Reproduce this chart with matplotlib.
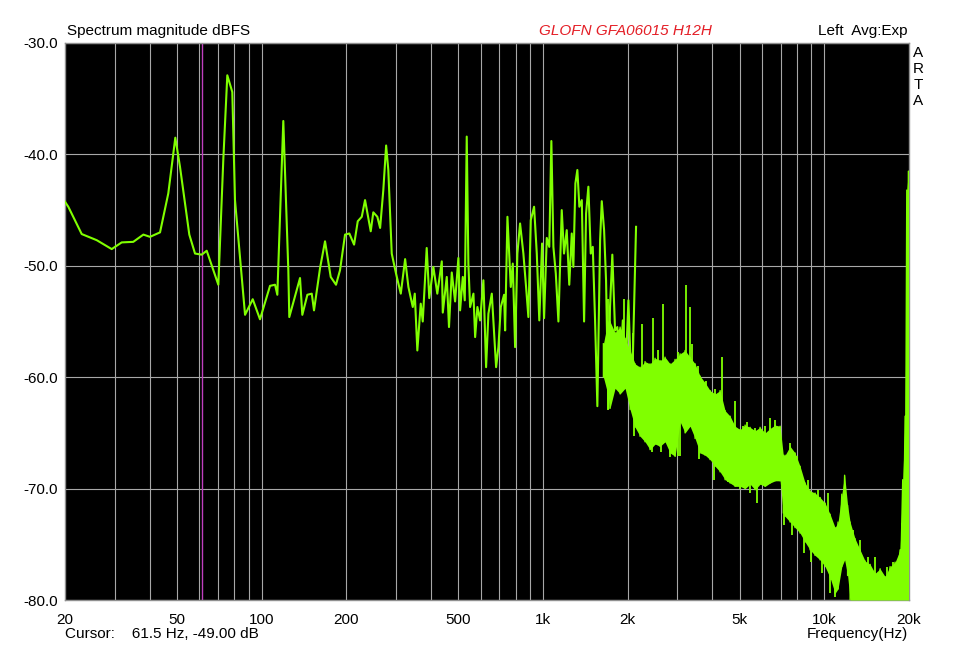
import numpy as np
import matplotlib
matplotlib.use("Agg")
import matplotlib.pyplot as plt

plt.rcParams['font.family'] = ['Liberation Sans', 'DejaVu Sans']

# low/mid band trace (Hz, dBFS)
lf_freq = [20.0, 20.55, 22.93, 25.93, 29.31, 31.81, 34.97, 37.98, 40.1, 43.53,
           46.58, 49.33, 51.25, 55.32, 57.97, 61.24, 63.79, 70.15, 73.06, 75.5,
           78.65, 80.4, 87.3, 92.96, 98.66, 107.1, 111.6, 113.7, 119.4, 124.4,
           125.4, 136.9, 139.5, 145.4, 150.7, 153.5, 161.3, 168.0, 176.0, 183.8,
           189.9, 197.9, 205.0, 213.1, 219.6, 226.9, 233.1, 244.2, 249.4, 257.8,
           263.7, 270.7, 277.0, 282.0, 290.0, 300.4, 312.3, 323.6, 332.4, 344.5,
           350.2, 357.6, 367.7, 373.8, 386.1, 394.3, 407.7, 421.1, 436.8, 440.4,
           455.0, 463.4, 474.0, 487.1, 500.4, 507.4, 518.8, 527.2, 535.8, 543.0,
           550.8, 566.0, 573.9, 584.7, 597.7, 614.1, 627.8, 639.8, 657.8, 681.4,
           694.4, 708.1, 727.4, 733.6, 747.6, 768.3, 781.0, 796.0, 811.0, 829.0,
           851.8, 870.8, 887.4, 905.0, 929.8, 950.6, 970.3, 992.7, 1009, 1031.6,
           1053, 1071, 1089, 1110.7, 1134.6, 1166, 1188, 1214.7, 1240, 1265.5,
           1282.3, 1303.8, 1325, 1347, 1374, 1400, 1423, 1450, 1478.5, 1503,
           1531.7, 1560.6, 1596, 1618, 1649, 1675.6, 1707.7, 1731, 1764, 1804,
           1838, 1880, 1922, 1958, 2012, 2069, 2142]
lf_db = [-44.25, -44.7, -47.15, -47.7, -48.5, -47.9, -47.85, -47.2, -47.4, -47.0,
         -43.5, -38.5, -41.1, -47.2, -48.9, -49.0, -48.65, -51.7, -40.5, -32.9,
         -34.4, -44.1, -54.4, -53.0, -54.8, -51.8, -51.7, -52.6, -37.0, -50.4,
         -54.6, -51.1, -54.4, -52.6, -52.5, -54.0, -50.2, -47.8, -51.0, -51.7,
         -50.4, -47.2, -47.1, -48.1, -46.0, -45.6, -44.1, -46.9, -45.2, -45.6,
         -46.6, -43.2, -39.2, -41.4, -48.9, -50.7, -52.5, -49.4, -51.9, -53.7,
         -52.5, -57.6, -53.4, -55.0, -48.4, -52.9, -50.1, -52.5, -49.6, -54.2,
         -51.0, -55.5, -50.6, -53.2, -49.3, -54.0, -51.0, -53.1, -38.4, -49.8,
         -53.7, -52.5, -56.4, -53.7, -54.9, -51.3, -59.1, -54.3, -52.5, -59.1,
         -57.3, -53.7, -52.6, -55.8, -45.6, -51.9, -49.8, -57.3, -48.9, -46.2,
         -48.9, -51.9, -54.6, -45.9, -44.7, -48.9, -54.9, -48.0, -54.7, -47.5,
         -48.3, -38.8, -48.3, -50.7, -55.0, -45.0, -48.9, -46.8, -51.7, -47.1,
         -50.1, -42.6, -41.4, -44.7, -44.1, -55.0, -45.3, -42.9, -48.9, -48.3,
         -54.9, -62.6, -47.7, -44.2, -46.8, -51.3, -62.8, -53.7, -49.0, -55.8,
         -55.5, -59.7, -54.9, -60.8, -53.1, -62.0, -46.5]

# high band noise: upper / lower edge of the dense trace
band_freq = [1640, 1700, 1731, 1804, 1880, 1958, 2040, 2125, 2213, 2306,
             2402, 2503, 2607, 2716, 2830, 2948, 3071, 3200, 3333, 3473,
             3618, 3770, 3927, 4091, 4262, 4440, 4625, 4818, 5020, 5230,
             5447, 5675, 5912, 6158, 6416, 6684, 6964, 7150, 7254, 7556,
             7872, 8202, 8546, 8900, 9272, 9662, 10066, 10484, 10922, 11190,
             11540, 11810, 12100, 12350, 12866, 13404, 13964, 14546, 15156, 15790,
             16450, 17136, 17852, 18598, 19000, 19374, 19640, 19900]
band_top = [-57.0, -55.0, -55.0, -56.0, -55.5, -56.5, -57.6, -58.8, -59.1, -58.6,
            -58.8, -58.3, -58.5, -58.2, -58.8, -58.4, -57.9, -57.6, -58.2, -58.8,
            -59.9, -60.5, -61.2, -61.5, -61.2, -63.0, -63.5, -64.4, -64.7, -64.3,
            -64.5, -64.8, -64.5, -65.0, -64.6, -64.3, -64.4, -67.0, -67.0, -66.2,
            -66.8, -68.0, -69.5, -70.2, -70.4, -70.8, -71.3, -72.3, -73.5, -73.0,
            -70.5, -68.8, -71.5, -73.0, -74.5, -75.5, -76.5, -76.8, -77.6, -77.2,
            -77.9, -77.0, -76.6, -75.5, -69.2, -63.5, -43.2, -41.5]
band_bot = [-60.0, -61.5, -62.8, -61.0, -61.5, -61.0, -62.9, -64.5, -65.3, -65.8,
            -66.5, -66.0, -66.2, -65.8, -66.8, -67.1, -64.0, -65.0, -64.4, -65.5,
            -66.8, -67.0, -67.4, -68.0, -68.5, -69.2, -69.5, -69.8, -69.8, -70.0,
            -69.6, -70.1, -69.6, -69.8, -69.5, -69.3, -69.3, -72.2, -72.5, -73.0,
            -73.5, -74.0, -74.8, -75.5, -76.0, -76.4, -77.0, -78.0, -79.4, -79.0,
            -77.0, -76.4, -77.8, -80.0, -80.0, -80.0, -80.0, -80.0, -80.0, -80.0,
            -80.0, -80.0, -80.0, -80.0, -80.0, -80.0, -80.0, -80.0]

# single spikes sticking out of the band (lower end, upper end)
spike_freq = [1700, 1940, 2095, 2100, 2244, 2280, 2440, 2456, 2570, 2630,
              2678, 2830, 3020, 3030, 3071, 3226, 3333, 3390, 3560, 3600,
              3800, 3880, 4040, 4090, 4200, 4322, 4540, 4820, 5020, 5140,
              5330, 5450, 5675, 5780, 6160, 6250, 6416, 6684, 7180, 7556,
              7680, 8000, 8450, 8730, 9000, 9500, 9800, 10300, 10480, 10550,
              10900, 12660, 13400, 14300, 15150, 16700, 17600, 18900]
spike_lo = [-62.9, -58.0, -60.0, -65.3, -60.0, -65.3, -66.7, -62.0, -61.0, -66.7,
            -62.0, -67.2, -67.1, -61.0, -67.1, -62.0, -62.0, -61.0, -62.0, -67.3,
            -63.0, -67.2, -69.2, -64.0, -67.9, -66.0, -69.4, -66.0, -70.0, -66.0,
            -66.0, -70.4, -66.5, -71.3, -66.5, -69.7, -68.0, -66.0, -73.3, -70.0,
            -74.2, -69.0, -75.8, -71.0, -76.6, -72.0, -77.6, -73.0, -79.4, -78.2,
            -79.7, -76.0, -77.0, -78.0, -79.0, -79.0, -79.0, -78.0]
spike_hi = [-53.0, -53.0, -56.0, -60.0, -55.2, -60.0, -62.0, -54.7, -57.6, -62.0,
            -53.4, -62.0, -62.0, -57.7, -60.0, -51.7, -53.7, -57.0, -59.0, -63.0,
            -60.3, -64.0, -64.0, -61.1, -64.0, -58.2, -66.0, -62.1, -66.0, -64.4,
            -64.0, -67.0, -64.6, -66.0, -64.4, -66.0, -63.7, -63.8, -70.0, -65.9,
            -71.0, -67.1, -72.0, -69.2, -73.0, -70.1, -74.0, -70.4, -74.0, -75.0,
            -75.0, -73.7, -74.6, -76.1, -76.1, -77.0, -76.6, -73.1]

x_ticks = [20, 50, 100, 200, 500, 1000, 2000, 5000, 10000, 20000]
x_labels = ['20', '50', '100', '200', '500', '1k', '2k', '5k', '10k', '20k']
y_ticks = [-80, -70, -60, -50, -40, -30]
grid_freqs = [30, 40, 50, 60, 70, 80, 90, 100, 200, 300, 400, 500, 600, 700, 800, 900,
              1000, 2000, 3000, 4000, 5000, 6000, 7000, 8000, 9000, 10000]
cursor_freq = 61.5

green = '#80ff00'
W, H = 973, 664

fig = plt.figure(figsize=(W / 100, H / 100), dpi=100)
ax = fig.add_axes([65 / W, 1 - 600 / H, 844 / W, 557 / H])
ax.set_facecolor('black')
ax.set_xscale('log')
ax.set_xlim(20, 20000)
ax.set_ylim(-80, -30)

for f in grid_freqs:
    ax.axvline(f, color='#a8a8a8', lw=0.8, zorder=1)
for y in y_ticks:
    ax.axhline(y, color='#a8a8a8', lw=0.8, zorder=1)
ax.axvline(cursor_freq, color='#c040c0', lw=1.0, zorder=2)

ax.fill_between(band_freq, band_bot, band_top, color=green, lw=0, zorder=3)
zig_x = np.repeat(band_freq, 2)
zig_y = np.column_stack([band_top, band_bot]).ravel()
ax.plot(zig_x, zig_y, color=green, lw=1.0, zorder=3)
ax.vlines(spike_freq, spike_lo, spike_hi, color=green, lw=1.3, zorder=3)
ax.plot(lf_freq, lf_db, color=green, lw=1.5, zorder=4)

ax.set_xticks(x_ticks)
ax.set_xticklabels(x_labels)
ax.xaxis.set_minor_locator(matplotlib.ticker.NullLocator())
ax.set_yticks(y_ticks)
ax.set_yticklabels([f'{v:.1f}' for v in y_ticks])
ax.tick_params(length=0, labelsize=11, colors='black')
ax.tick_params(axis='x', pad=9)
ax.tick_params(axis='y', pad=5)
for s in ax.spines.values():
    s.set_color('#909090')
    s.set_linewidth(1)

fs = 11
fig.text(67 / W, 1 - 31 / H, 'Spectrum magnitude dBFS', fontsize=fs, va='center', ha='left')
fig.text(625 / W, 1 - 31 / H, 'GLOFN GFA06015 H12H', fontsize=fs, va='center', ha='center',
         color='#e41e26', style='italic')
fig.text(908 / W, 1 - 31 / H, 'Left  Avg:Exp', fontsize=fs, va='center', ha='right')
for i, ch in enumerate('ARTA'):
    fig.text(918 / W, 1 - (53 + 16 * i) / H, ch, fontsize=fs, va='center', ha='center')
fig.text(65 / W, 1 - 634 / H, 'Cursor:    61.5 Hz, -49.00 dB', fontsize=fs, va='center', ha='left')
fig.text(908 / W, 1 - 634 / H, 'Frequency(Hz)', fontsize=fs, va='center', ha='right')

fig.savefig('out.png', dpi=100, facecolor='white')
